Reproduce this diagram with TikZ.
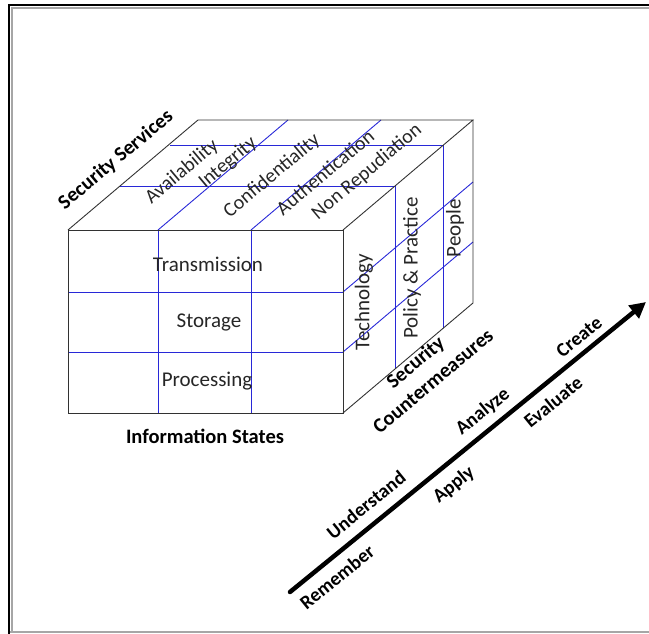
\documentclass[tikz,border=0pt]{standalone}
\usepackage{fontspec}
\setmainfont{Carlito}
\usetikzlibrary{arrows.meta}
\definecolor{gridblue}{RGB}{40,40,215}
\definecolor{edgegray}{RGB}{50,50,50}
\tikzset{
  celltext/.style={font=\fontsize{21}{24}\selectfont, text=black!85, inner sep=0pt},
  cubeedge/.style={draw=edgegray, line width=0.9pt},
  gridline/.style={draw=gridblue, line width=0.9pt},
  toplabel/.style={font=\fontsize{20}{23}\selectfont, text=black!85, inner sep=0pt, rotate=40},
  sidelabel/.style={celltext, rotate=90},
  boldlabel/.style={font=\fontsize{20.5}{23}\selectfont\bfseries, inner sep=0pt},
  axislabel/.style={font=\fontsize{19.5}{22}\selectfont\bfseries, inner sep=0pt, rotate=39},
}
\begin{document}
\begin{tikzpicture}[x=1pt, y=-1pt]
\useasboundingbox (0,0) rectangle (649,634);
% frame
\draw[black!35, line width=1.2pt] (9,632) -- (649,632);
\draw[black!35, line width=1.2pt] (12,632) -- (12,8) -- (649,8);
\draw[black, line width=2.6pt] (9,634) -- (9,5) -- (649,5);

% cube corners
\coordinate (F1) at (68,230);
\coordinate (F2) at (343,230);
\coordinate (F3) at (343,413);
\coordinate (F4) at (68,413);
\coordinate (B1) at (198,120);
\coordinate (B2) at (473,120);
\coordinate (B3) at (473,303);

% blue grid, front face
\draw[gridline] (158,230) -- (158,413);
\draw[gridline] (251,230) -- (251,413);
\draw[gridline] (68,292) -- (343,292);
\draw[gridline] (68,352) -- (343,352);
% top face
\draw[gridline] (158,230) -- (288,120);
\draw[gridline] (251,230) -- (381,120);
\draw[gridline] (120,186) -- (395,186) -- (395,369);
\draw[gridline] (170,145.3) -- (443,145.3) -- (443,328.3);
% right face
\draw[gridline] (343,292) -- (473,182);
\draw[gridline] (343,352) -- (473,242);

% cube edges
\draw[cubeedge] (F1) -- (F2) -- (F3) -- (F4) -- cycle;
\draw[cubeedge] (F1) -- (B1) -- (B2) -- (F2);
\draw[cubeedge] (B2) -- (B3) -- (F3);

% front labels
\node[celltext] (trans) at (208,264) {Transmission};
\node[celltext] (stor) at (209,322) {Storage};
\node[celltext] (proc) at (207,381) {Processing};
\node[boldlabel] (infost) at (205,436) {Information States};

% top labels
\node[boldlabel, rotate=40] (secserv) at (116,160) {Security Services};
\node[toplabel] (avail) at (182,172) {Availability};
\node[toplabel] (integ) at (228,163) {Integrity};
\node[toplabel] (conf) at (272,176) {Confidentiality};
\node[toplabel] (auth) at (325,172) {Authentication};
\node[toplabel] (nonrep) at (367,172) {Non Repudiation};

% right labels
\node[sidelabel] (tech) at (364,302) {Technology};
\node[sidelabel] (policy) at (412,268) {Policy \& Practice};
\node[sidelabel] (people) at (455,228) {People};
\node[boldlabel, rotate=40] (sec) at (416,363) {Security};
\node[boldlabel, rotate=40] (counter) at (433,381) {Countermeasures};

% axis arrow
\coordinate (A0) at (290,592);
\coordinate (A1) at (646,302);
\draw[black, line width=4.5pt, line cap=round, -{Triangle[length=16pt, width=16pt]}] (A0) -- (A1);
\node[axislabel] (remember) at (337,577) {Remember};
\node[axislabel] (understand) at (366,505) {Understand};
\node[axislabel] (apply) at (454,485) {Apply};
\node[axislabel] (analyze) at (483,412) {Analyze};
\node[axislabel] (evaluate) at (553,402) {Evaluate};
\node[axislabel] (create) at (579,337) {Create};
\end{tikzpicture}
\end{document}
